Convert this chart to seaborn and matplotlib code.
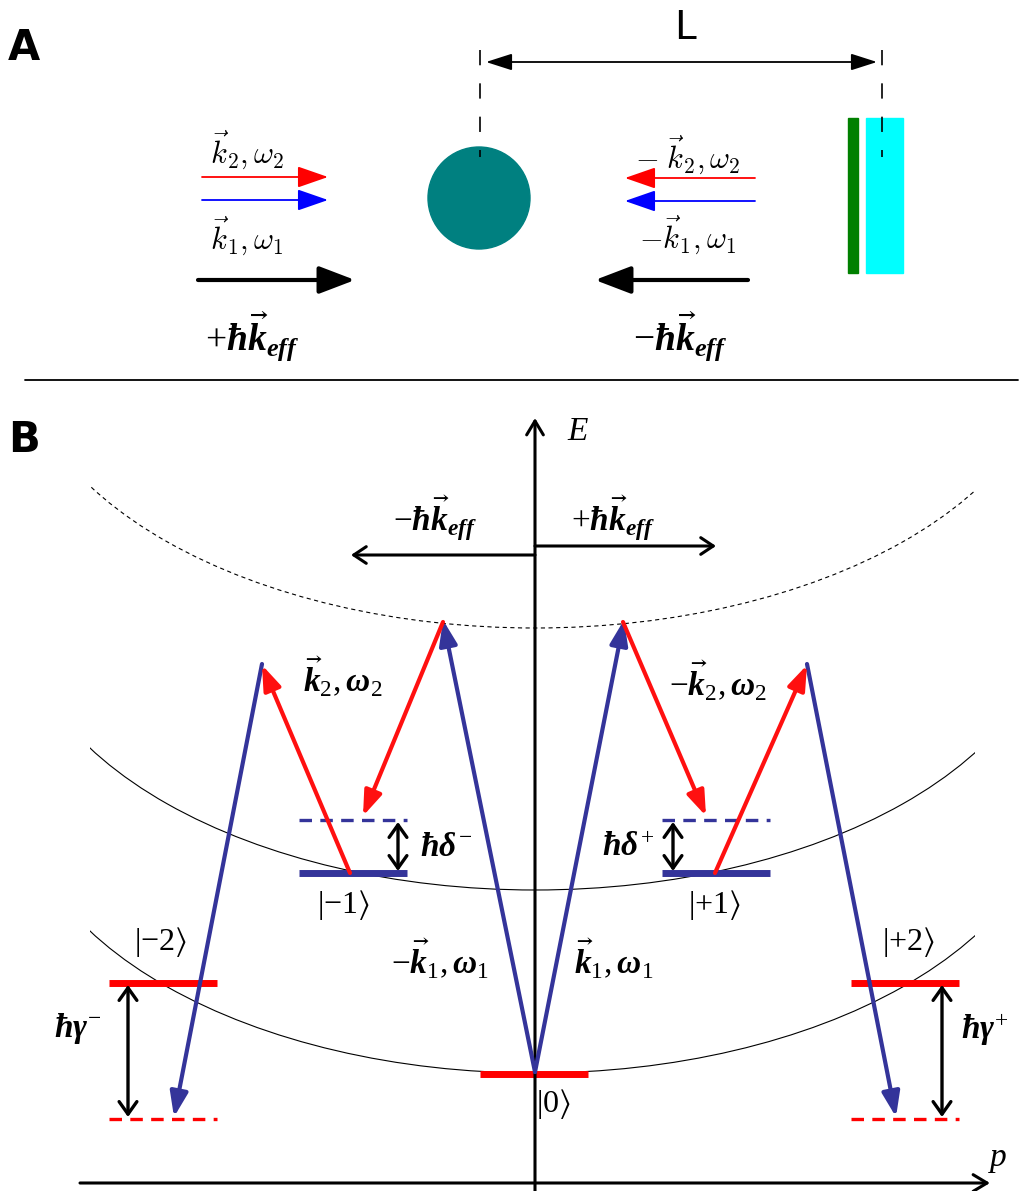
import matplotlib
matplotlib.use('Agg')
import matplotlib.pyplot as plt
import matplotlib.patches as mpatches
import numpy as np
import seaborn as sns

# ---------------- panel A (pixel coordinates of the reference) ----------------
atom_xy = (479, 198)
atom_r = 51
mirror_green = (848, 118, 10, 155)     # x, y, w, h
mirror_cyan = (866, 118, 37, 155)
L_marks_x = [480, 882]
L_y = 62

beam_colors = ['red', 'blue', 'black']
beam_y_left = [177, 200, 280]
beam_x_left = [(202, 328), (202, 328), (198, 355)]
beam_y_right = [178, 201, 280]
beam_x_right = [(755, 625), (755, 625), (748, 595)]

labels_A = [
    (247, 150, r'$\vec{k}_2,\omega_2$', 'cm', 22),
    (247, 236, r'$\vec{k}_1,\omega_1$', 'cm', 22),
    (688, 155, r'$-\;\vec{k}_2,\omega_2$', 'cm', 22),
    (688, 235, r'$-\vec{k}_1,\omega_1$', 'cm', 22),
    (252, 336, r'$+\hbar\vec{k}_{eff}$', 'custom', 27),
    (680, 336, r'$-\hbar\vec{k}_{eff}$', 'custom', 27),
]

# ---------------- panel B ----------------
axis_x = 535
axis_top = 418
p_axis_y = 1183
p_axis_x = (80, 990)

# three dispersion curves, same shape, shifted in energy
curve_vertex_y = [628, 890, 1073]
curve_styles = ['--', '-', '-']
curve_span = (90, 975)
ell_a, ell_b = 520, 294

level_names = [r'$|{-}2\rangle$', r'$|{-}1\rangle$', r'$|0\rangle$', r'$|{+}1\rangle$', r'$|{+}2\rangle$']
level_x = [163, 353, 534, 716, 905]
level_y = [983, 873, 1074, 873, 983]
level_virtual_y = [1119, 820, None, 820, 1119]
level_halfw = 54
level_colors = ['red', '#34349a', 'red', '#34349a', 'red']
level_label_xy = [(160, 942), (343, 905), (553, 1104), (714, 905), (908, 942)]

blue_paths = [((535, 1072), (443, 620)), ((535, 1072), (624, 620)),
              ((262, 664), (174, 1117)), ((807, 664), (896, 1117))]
red_paths = [((350, 873), (262, 665)), ((443, 622), (363, 816)),
             ((623, 622), (706, 816)), ((715, 873), (807, 665))]

gap_x = [398, 673, 128, 942]
gap_y = [(820, 873), (820, 873), (983, 1119), (983, 1119)]

hk_arrows = [((535, 555), (351, 555)), ((535, 546), (716, 546))]

labels_B = [
    (343, 676, r'$\vec{k}_2,\omega_2$'),
    (718, 680, r'$-\vec{k}_2,\omega_2$'),
    (440, 958, r'$-\vec{k}_1,\omega_1$'),
    (614, 958, r'$\vec{k}_1,\omega_1$'),
    (446, 846, r'$\hbar\delta^{-}$'),
    (628, 846, r'$\hbar\delta^{+}$'),
    (78, 1028, r'$\hbar\gamma^{-}$'),
    (985, 1030, r'$\hbar\gamma^{+}$'),
    (435, 518, r'$-\hbar\vec{k}_{eff}$'),
    (613, 518, r'$+\hbar\vec{k}_{eff}$'),
]

sns.set_theme(style="white")
plt.rcParams['text.color'] = 'black'
plt.rcParams['lines.scale_dashes'] = False
plt.rcParams['mathtext.fontset'] = 'custom'
plt.rcParams['mathtext.rm'] = 'Liberation Serif'
plt.rcParams['mathtext.it'] = 'Liberation Serif:italic:bold'
plt.rcParams['mathtext.bf'] = 'Liberation Serif:bold'
plt.rcParams['mathtext.fallback'] = 'stix'

fig = plt.figure(figsize=(10.2, 11.91), dpi=100)
ax = fig.add_axes([0, 0, 1, 1])
ax.set_xlim(0, 1020)
ax.set_ylim(1191, 0)
ax.axis('off')


def arrow(p0, p1, color, lw, style, ms=20, z=3):
    a = mpatches.FancyArrowPatch(p0, p1, arrowstyle=style, color=color, lw=lw,
                                 mutation_scale=ms, shrinkA=0, shrinkB=0, zorder=z)
    ax.add_patch(a)


# panel A
ax.text(8, 48, 'A', fontsize=30, fontweight='bold', va='center', family='DejaVu Sans')
ax.text(685, 28, 'L', fontsize=28, va='center', ha='center', family='DejaVu Sans')
ax.add_patch(mpatches.Circle(atom_xy, atom_r, color='#008080', zorder=2))
ax.add_patch(mpatches.Rectangle(mirror_green[:2], *mirror_green[2:], color='#008000', zorder=2))
ax.add_patch(mpatches.Rectangle(mirror_cyan[:2], *mirror_cyan[2:], color='#00ffff', zorder=2))
for x in L_marks_x:
    ax.plot([x, x], [50, 157], color='black', lw=1.2, ls=(0, (11, 13)), zorder=3)
arrow((L_marks_x[0] + 6, L_y), (L_marks_x[1] - 5, L_y), 'black', 1.3,
      '<|-|>,head_length=1.0,head_width=0.32', ms=16)

for c, y, (x0, x1) in zip(beam_colors, beam_y_left, beam_x_left):
    if c == 'black':
        arrow((x0, y), (x1, y), c, 3, '-|>,head_length=1.1,head_width=0.42')
    else:
        arrow((x0, y), (x1, y), c, 1.3, '-|>,head_length=0.95,head_width=0.33')
for c, y, (x0, x1) in zip(beam_colors, beam_y_right, beam_x_right):
    if c == 'black':
        arrow((x0, y), (x1, y), c, 3, '-|>,head_length=1.1,head_width=0.42')
    else:
        arrow((x0, y), (x1, y), c, 1.3, '-|>,head_length=0.95,head_width=0.33')

for x, y, s, mf, fs in labels_A:
    ax.text(x, y, s, fontsize=fs, ha='center', va='center', math_fontfamily=mf)

ax.plot([25, 1018], [380, 380], color='black', lw=1.3)

# panel B
ax.text(8, 440, 'B', fontsize=30, fontweight='bold', va='center', family='DejaVu Sans')
arrow((axis_x, 1191), (axis_x, axis_top), 'black', 2.2, '->,head_length=0.5,head_width=0.3', z=4)
arrow((p_axis_x[0], p_axis_y), (p_axis_x[1], p_axis_y), 'black', 2.2,
      '->,head_length=0.5,head_width=0.3', z=4)
ax.text(567, 432, 'E', fontsize=24, fontstyle='italic', family='Liberation Serif', va='center')
ax.text(990, 1158, 'p', fontsize=24, fontstyle='italic', family='Liberation Serif', va='center')

clip = mpatches.Rectangle((curve_span[0], 0), curve_span[1] - curve_span[0], 1191,
                          transform=ax.transData)
for vy, ls in zip(curve_vertex_y, curve_styles):
    arc = mpatches.Arc((axis_x, vy - ell_b), 2 * ell_a, 2 * ell_b, theta1=0, theta2=180,
                       color='black', lw=0.8, ls=(0, (3, 2.5)) if ls == '--' else '-', zorder=2)
    ax.add_patch(arc)
    arc.set_clip_path(clip)

for x, y, vy, c in zip(level_x, level_y, level_virtual_y, level_colors):
    ax.plot([x - level_halfw, x + level_halfw], [y, y], color=c, lw=5, solid_capstyle='butt', zorder=3)
    if vy is not None:
        ax.plot([x - level_halfw, x + level_halfw], [vy, vy], color=c, lw=2.4,
                ls=(0, (9, 6)), zorder=3)

for (x, y), s in zip(level_label_xy, level_names):
    ax.text(x, y, s, fontsize=23, ha='center', va='center')

for p0, p1 in blue_paths:
    arrow(p0, p1, '#34349a', 3, '-|>,head_length=0.75,head_width=0.27', z=5)
for p0, p1 in red_paths:
    arrow(p0, p1, '#ff1010', 3, '-|>,head_length=0.75,head_width=0.27', z=5)

for x, (y0, y1) in zip(gap_x, gap_y):
    arrow((x, y0 + 2), (x, y1 - 2), 'black', 2.4, '<->,head_length=0.45,head_width=0.32', z=4)

for p0, p1 in hk_arrows:
    arrow(p0, p1, 'black', 2.2, '->,head_length=0.45,head_width=0.3', z=4)

for x, y, s in labels_B:
    ax.text(x, y, s, fontsize=24, ha='center', va='center', math_fontfamily='custom')

fig.savefig('out.png', dpi=100)
